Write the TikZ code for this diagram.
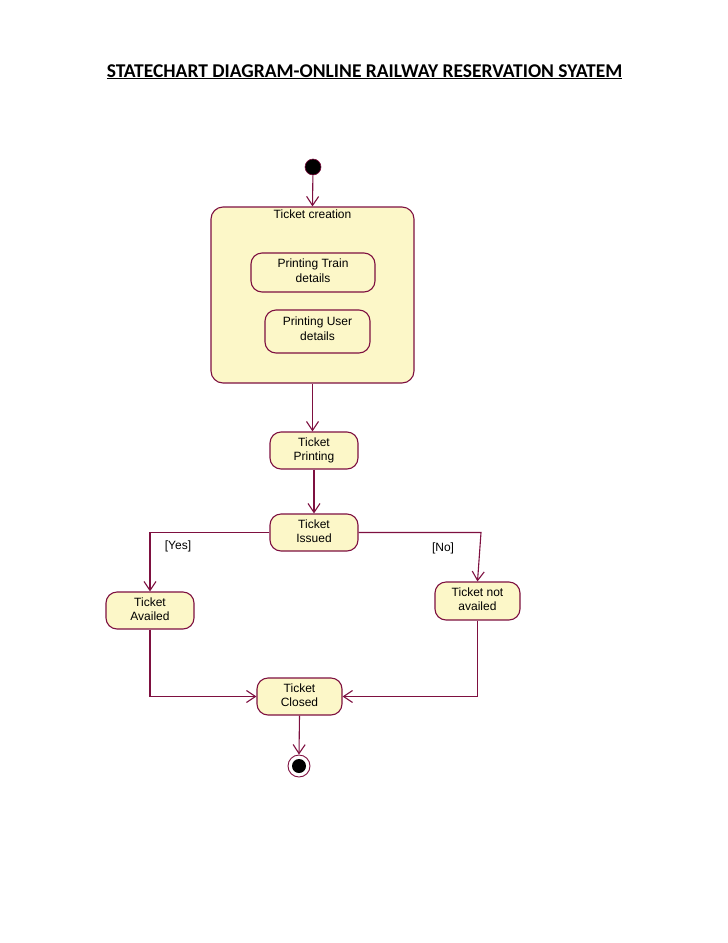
\documentclass[tikz,border=0pt]{standalone}
\usepackage{fontspec}
\setmainfont{Liberation Sans}
\newfontfamily\titlefont{Carlito}
\usetikzlibrary{arrows.meta}
\definecolor{umlfill}{HTML}{FCF7C8}
\definecolor{umlline}{HTML}{7E1040}
\tikzset{
  statebox/.style={draw=umlline, fill=umlfill, line width=1.1pt, rounded corners=11pt,
    align=center, inner sep=0pt, font=\fontsize{12}{15}\selectfont},
  trans/.style={draw=umlline, line width=1.1pt, -{Straight Barb[length=9pt,width=12pt,line width=1.1pt]}},
  guard/.style={font=\fontsize{12}{15}\selectfont, inner sep=0pt}
}
\newcommand{\twoline}[3][3pt]{\raisebox{#1}{\shortstack{#2\\[1.5pt]#3}}}
\begin{document}
\begin{tikzpicture}[x=1pt,y=-1pt]
\useasboundingbox (0,0) rectangle (728,943);
\node[font=\titlefont\bfseries\fontsize{19.5}{22}\selectfont, anchor=base, inner sep=0pt] (title) at (364.5,77) {\underline{STATECHART DIAGRAM-ONLINE RAILWAY RESERVATION SYATEM}};

\node[circle, fill=black, draw=umlline, line width=0.6pt, minimum size=16pt, inner sep=0pt] (init) at (313,167) {};

\node[statebox, rounded corners=12pt, minimum width=203pt, minimum height=176pt,
  label={[anchor=north, inner sep=0pt, font=\fontsize{12}{15}\selectfont, yshift=-3pt]north:Ticket creation}] (comp) at (312.5,295) {};
\node[statebox, minimum width=124pt, minimum height=39pt] (ptd) at (313,272.5) {\twoline[4pt]{Printing Train}{details}};
\node[statebox, minimum width=105pt, minimum height=43pt] (pud) at (317.5,331.5) {\twoline[6pt]{Printing User}{details}};

\node[statebox, minimum width=88pt, minimum height=37pt] (tp) at (314,450.5) {\twoline{Ticket}{Printing}};
\node[statebox, minimum width=88pt, minimum height=37pt] (ti) at (314,532.5) {\twoline{Ticket}{Issued}};
\node[statebox, minimum width=88pt, minimum height=37pt] (ta) at (150,610.5) {\twoline{Ticket}{Availed}};
\node[statebox, minimum width=85pt, minimum height=38pt] (tna) at (477.5,601) {\twoline[4pt]{Ticket not}{availed}};
\node[statebox, minimum width=85pt, minimum height=37pt] (tc) at (299.5,696.5) {\twoline{Ticket}{Closed}};

\node[circle, draw=umlline, fill=white, line width=0.9pt, minimum size=22pt, inner sep=0pt] (fin) at (299,766) {};
\node[circle, fill=black, minimum size=14pt, inner sep=0pt] (finin) at (fin.center) {};

\coordinate (nb) at (481,532.5);

\draw[trans] (init) -- (comp.north);
\draw[trans] (comp.south) -- (comp.south |- tp.north);
\draw[trans] (tp) -- (ti);
\draw[trans] (ti.west) -| (ta.north);
\draw[trans] (ti.east) -- (nb) -- (tna.north);
\draw[trans] (ta.south) |- (tc.west);
\draw[trans] (tna.south) |- (tc.east);
\draw[trans] (tc.south) -- (fin.north);

\node[guard] (yes) at (178,546) {[Yes]};
\node[guard] (no) at (443,548) {[No]};
\end{tikzpicture}
\end{document}
